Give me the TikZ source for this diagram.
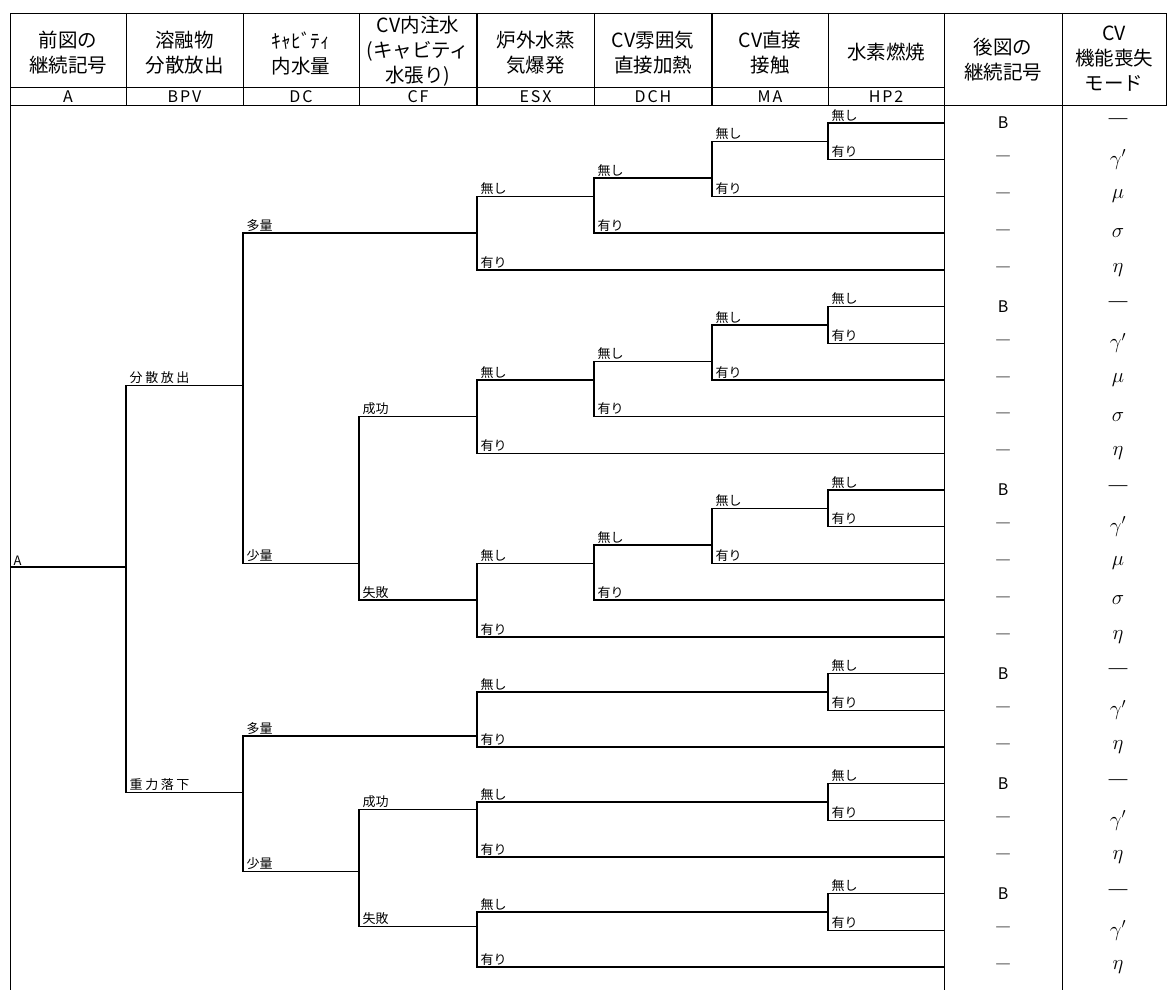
\documentclass[tikz,border=0pt]{standalone}
\usepackage{fontspec}
\setmainfont{Noto Sans CJK JP}

\tikzset{
  rule/.style={line width=0.8pt},
  br/.style={line width=1.4pt},
  lab/.style={anchor=south west,inner sep=1pt,xshift=2pt,font=\fontsize{13}{13}\selectfont},
  hd/.style={align=center,font=\fontsize{19.5}{25}\selectfont},
  ab/.style={font=\fontsize{16}{16}\selectfont\addfontfeature{LetterSpace=12}},
  res/.style={font=\fontsize{16}{16}\selectfont},
  mode/.style={font=\fontsize{22}{22}\selectfont},
}

\newcommand{\wide}[1]{{\addfontfeature{LetterSpace=20}#1}}

\newcommand{\fork}[8]{%
  \draw[br] (#5,{#3}) -- (#2,{#3}) node[lab] (#1n) {#7} -- (#2,{#4}) node[lab] (#1y) {#8} -- (#6,{#4});}

\newcommand{\fivetree}[2]{%
  \fork{hp#1}{828}{rowy(#2)}{rowy(#2+1)}{944}{944}{無し}{有り}
  \fork{ma#1}{712}{rowy(#2+0.5)}{rowy(#2+2)}{828}{944}{無し}{有り}
  \fork{dch#1}{594}{rowy(#2+1.5)}{rowy(#2+3)}{712}{944}{無し}{有り}
  \fork{esx#1}{477}{rowy(#2+2)}{rowy(#2+4)}{594}{944}{無し}{有り}}

\newcommand{\threetree}[2]{%
  \fork{hp#1}{828}{rowy(#2)}{rowy(#2+1)}{944}{944}{無し}{有り}
  \fork{esx#1}{477}{rowy(#2+0.5)}{rowy(#2+2)}{828}{944}{無し}{有り}}

\begin{document}
\begin{tikzpicture}[x=1pt,y=-1pt,declare function={rowy(\n)=123+36.7*\n;}]
\useasboundingbox (0,0) rectangle (1168,990);

\draw[rule] (10,990) -- (10,13) -- (1166,13) -- (1166,105) -- (10,105);
\draw[rule] (10,87) -- (944,87);
\foreach \x in {126,243,359,594,828} \draw[rule] (\x,13) -- (\x,105);
\foreach \x in {477,712} \draw[line width=2.2pt] (\x,13) -- (\x,105);
\draw[rule] (944,13) -- (944,990);
\draw[rule] (1062,13) -- (1062,990);

\node[hd] (h1) at (68,53) {前図の\\継続記号};
\node[hd] (h2) at (184.5,53) {溶融物\\分散放出};
\node[hd] (h3) at (301,53) {ｷｬﾋﾞﾃｨ\\内水量};
\node[hd] (h4) at (418,51) {CV内注水\\(キャビティ\\水張り)};
\node[hd] (h5) at (535.5,53) {炉外水蒸\\気爆発};
\node[hd] (h6) at (653,53) {CV雰囲気\\直接加熱};
\node[hd] (h7) at (770,53) {CV直接\\接触};
\node[hd] (h8) at (886,52) {水素燃焼};
\node[hd] (h9) at (1003,60) {後図の\\継続記号};
\node[hd] (h10) at (1114,59) {CV\\機能喪失\\モード};

\foreach \x/\t [count=\k] in {68/A,184.5/BPV,301/DC,418/CF,535.5/ESX,653/DCH,770/MA,886/HP2}
  \node[ab] (a\k) at (\x,96.5) {\t};

\draw[br] (10,{rowy(12.1)}) node[lab] (lA) {A} -- (126,{rowy(12.1)});
\fork{bpv}{126}{rowy(7.15)}{rowy(18.25)}{243}{243}{\wide{分散放出}}{\wide{重力落下}}
\fork{dca}{243}{rowy(3)}{rowy(12)}{477}{359}{多量}{少量}
\fork{cfa}{359}{rowy(8)}{rowy(13)}{477}{477}{成功}{失敗}
\fork{dcb}{243}{rowy(16.7)}{rowy(20.4)}{477}{359}{多量}{少量}
\fork{cfb}{359}{rowy(18.7)}{rowy(21.9)}{477}{477}{成功}{失敗}

\fivetree{1}{0}
\fivetree{2}{5}
\fivetree{3}{10}
\threetree{4}{15}
\threetree{5}{18}
\threetree{6}{21}

\foreach \c/\m [count=\k from 0] in {
  B/―, ―/$\gamma'$, ―/$\mu$, ―/$\sigma$, ―/$\eta$,
  B/―, ―/$\gamma'$, ―/$\mu$, ―/$\sigma$, ―/$\eta$,
  B/―, ―/$\gamma'$, ―/$\mu$, ―/$\sigma$, ―/$\eta$,
  B/―, ―/$\gamma'$, ―/$\eta$,
  B/―, ―/$\gamma'$, ―/$\eta$,
  B/―, ―/$\gamma'$, ―/$\eta$}
{
  \node[res] (c\k) at (1003,{rowy(\k)}) {\c};
  \node[mode] (m\k) at (1118,{rowy(\k)}) {\m};
}
\end{tikzpicture}
\end{document}
